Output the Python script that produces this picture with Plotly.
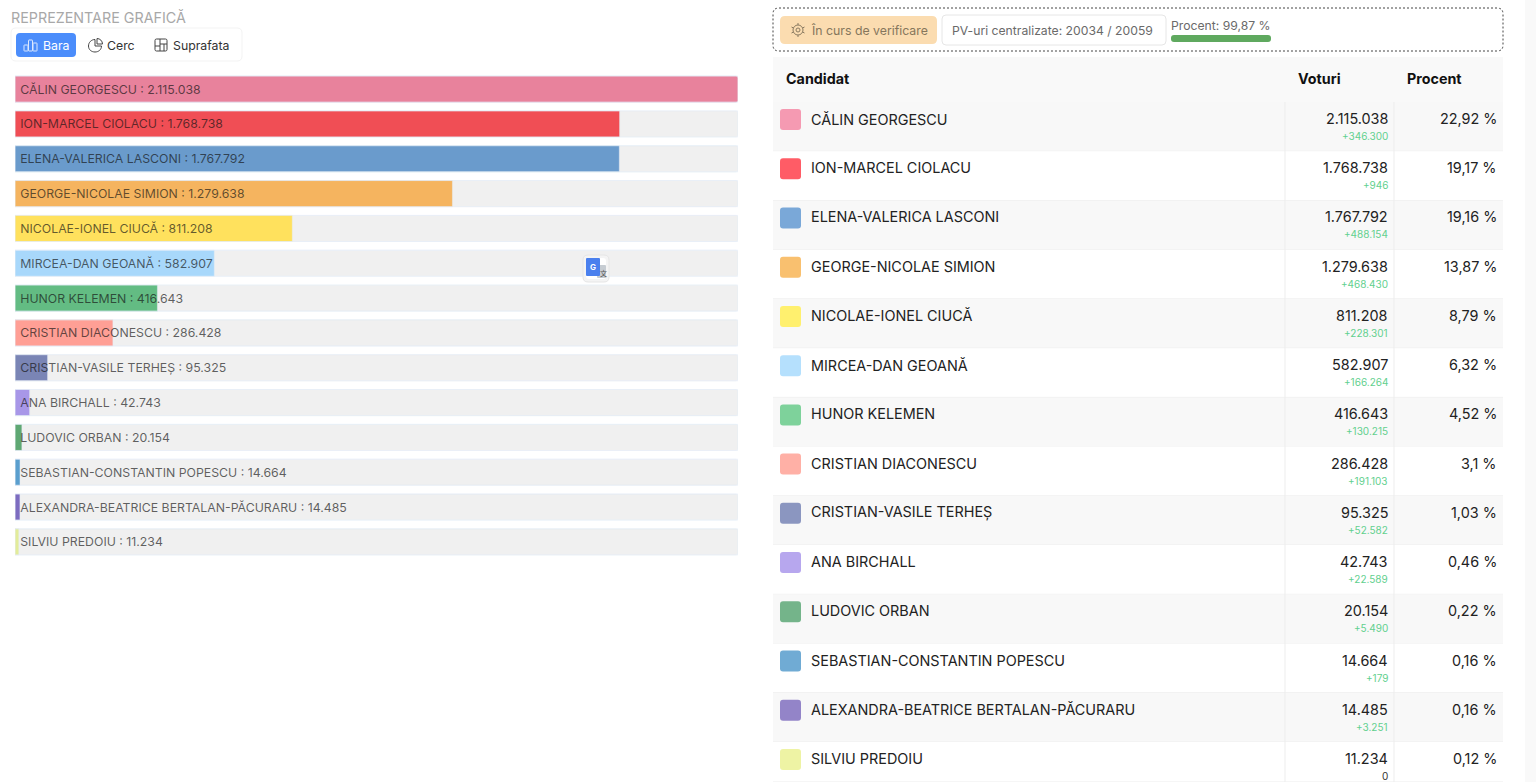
import plotly.graph_objects as go

candidates = ["CĂLIN GEORGESCU", "ION-MARCEL CIOLACU", "ELENA-VALERICA LASCONI", "GEORGE-NICOLAE SIMION",
              "NICOLAE-IONEL CIUCĂ", "MIRCEA-DAN GEOANĂ", "HUNOR KELEMEN", "CRISTIAN DIACONESCU",
              "CRISTIAN-VASILE TERHEȘ", "ANA BIRCHALL", "LUDOVIC ORBAN", "SEBASTIAN-CONSTANTIN POPESCU",
              "ALEXANDRA-BEATRICE BERTALAN-PĂCURARU", "SILVIU PREDOIU"]
votes = [2115038, 1768738, 1767792, 1279638, 811208, 582907, 416643, 286428, 95325, 42743, 20154, 14664, 14485, 11234]
deltas = [346300, 946, 488154, 468430, 228301, 166264, 130215, 191103, 52582, 22589, 5490, 179, 3251, 0]
percents = ["22,92 %", "19,17 %", "19,16 %", "13,87 %", "8,79 %", "6,32 %", "4,52 %", "3,1 %", "1,03 %",
            "0,46 %", "0,22 %", "0,16 %", "0,16 %", "0,12 %"]
bar_colors = ["#e8829c", "#f04e55", "#6a9bcc", "#f5b45f", "#ffe15d", "#a8d8fb", "#63bc83", "#ff9f95",
              "#7a85b5", "#a897e8", "#5fa873", "#5b9fce", "#7d6cc0", "#e3ec9a"]
swatch_colors = ["#f59ab2", "#ff5c66", "#7aa8d8", "#f9c06f", "#fff06e", "#b5e0fd", "#7ed29b", "#ffb0a6",
                 "#8b96c0", "#b7a7ee", "#74b48a", "#70abd4", "#9384c8", "#eef3a4"]

FONT = "Inter"
W, H = 1536, 782


def fmt(n):
    return f"{n:,}".replace(",", ".")


def rrect(x0, y0, x1, y1, r):
    return (f"M{x0+r},{y0} L{x1-r},{y0} Q{x1},{y0} {x1},{y0+r} L{x1},{y1-r} Q{x1},{y1} {x1-r},{y1} "
            f"L{x0+r},{y1} Q{x0},{y1} {x0},{y1-r} L{x0},{y0+r} Q{x0},{y0} {x0+r},{y0} Z")


shapes = []
notes = []


def box(x0, y0, x1, y1, fill="rgba(0,0,0,0)", line=None, r=0, dash="solid", width=1):
    shapes.append(dict(type="path", path=rrect(x0, y0, x1, y1, r), xref="x2", yref="y2", fillcolor=fill,
                       line=dict(color=line or "rgba(0,0,0,0)", width=width if line else 0, dash=dash)))


def stroke(path, color, width=1):
    shapes.append(dict(type="path", path=path, xref="x2", yref="y2", line=dict(color=color, width=width)))


def label(x, y, text, size=14, color="#222", anchor="left", bold=False, family=FONT):
    # annotations sit about 1px inside their anchor
    nudge = {"left": -1, "right": 1}.get(anchor, 0)
    notes.append(dict(x=x + nudge, y=y, xref="x2", yref="y2", text=f"<b>{text}</b>" if bold else text,
                      showarrow=False, xanchor=anchor, yanchor="middle", align=anchor, borderpad=0,
                      font=dict(family=family, size=size, color=color)))


# left header and the buttons
label(11, 17, "REPREZENTARE GRAFICĂ", 14.3, "#a8a8a8")
box(11, 28, 242, 61, "#ffffff", "#f3f3f3", 5)
box(16, 33, 76, 57, "#4b8dfb", None, 4)
label(43, 45, "Bara", 12.3, "#ffffff")
label(107, 45, "Cerc", 12.3, "#333333")
label(173, 45, "Suprafata", 12.3, "#333333")
for x0, y0, x1 in [(24, 45, 28), (28.5, 40, 32.5), (33, 43, 37)]:
    box(x0, y0, x1, 51, "rgba(0,0,0,0)", "#dce8ff", 0.5, width=1)
stroke("M95,39.5 C91.4,39.5 88.5,42.4 88.5,46 C88.5,49.6 91.4,52 95,52 C98.6,52 101.5,49.6 101.5,46 L95,46 Z",
       "#444444")
stroke("M97,38.5 C100,38.5 102.5,41 102.5,44 L97,44 Z", "#444444")
box(155, 39, 167, 51, "rgba(0,0,0,0)", "#444444", 1.5)
stroke("M160,39 L160,51 M155,46 L160,46 M160,44 L167,44 M164,44 L164,51", "#444444")

# floating translate widget
box(583, 255, 609, 282, "#f4f4f4", "#e6e6e6", 5)
box(586, 258, 606, 279, "#ffffff", None, 3)
box(597, 265, 606, 278, "#c6ccd2", None, 1)
box(586, 258, 600, 276, "#4a80ee", None, 1)
label(593, 267, "G", 8, "#ffffff", "center", True)
label(603, 273, "文", 7, "#555555", "center", family="Noto Sans CJK SC")

# status bar
box(773, 8, 1503, 51, "rgba(0,0,0,0)", "#444444", 6, "2px,2px")
box(780, 16, 937, 44, "#fbdcb0", None, 5)
shapes.append(dict(type="circle", x0=793, y0=25, x1=803, y1=35, xref="x2", yref="y2",
                   line=dict(color="#8a7a60", width=1)))
shapes.append(dict(type="circle", x0=796, y0=28, x1=800, y1=32, xref="x2", yref="y2",
                   line=dict(color="#8a7a60", width=1)))
stroke("M798,23 L798,25 M798,35 L798,37 M791.5,27 L793.5,28 M802.5,32 L804.5,33 M791.5,33 L793.5,32 M802.5,28 L804.5,27",
       "#8a7a60")
label(811, 30, "În curs de verificare", 12.3, "#85765c")
box(942, 15, 1166, 45, "#ffffff", "#e6e6e6", 4)
label(952, 30, "PV-uri centralizate: 20034 / 20059", 12.2, "#6a6a6a")
label(1171, 25, "Procent: 99,87 %", 12.2, "#6a6a6a")
box(1171, 35, 1271, 42, "#5fa95f", None, 3)

# table
ROW0, ROW_H = 102.0, 49.23
box(1525, 0, 1536, 782, "#f9f9f9")
box(773, 57, 1503, 102, "#f9f9f9")
label(786, 78.5, "Candidat", 14.3, "#111111", bold=True)
label(1298, 78.5, "Voturi", 14.3, "#111111", bold=True)
label(1407, 78.5, "Procent", 14.3, "#111111", bold=True)
for i, name in enumerate(candidates):
    top = ROW0 + i * ROW_H
    bottom = min(top + ROW_H, H)
    box(773, top, 1503, bottom, "#f8f8f8" if i % 2 == 0 else "#ffffff")
    stroke(f"M773,{bottom} L1503,{bottom}", "#ededed")
    box(780, top + 7, 801, top + 28, swatch_colors[i], None, 3)
    label(811, top + 16.5, name, 14.4, "#222222")
    label(1388, top + 16.5, fmt(votes[i]), 14.4, "#222222", "right")
    label(1388, top + 34, f"+{fmt(deltas[i])}" if deltas[i] else "0", 10,
          "#62d08e" if deltas[i] else "#333333", "right")
    label(1497, top + 16.5, percents[i], 14.4, "#222222", "right")
stroke("M1285,102 L1285,782 M1394,102 L1394,782", "#ededed")

top_votes = [max(votes)] * len(votes)
# leading thin space moves the text to where the reference starts it
bar_labels = [f"\u2009{n} : {fmt(v)}" for n, v in zip(candidates, votes)]

fig = go.Figure()
fig.add_trace(go.Bar(y=candidates, x=top_votes, orientation="h", marker=dict(color="#f0f0f0", cornerradius=2),
                     hoverinfo="skip", xaxis="x", yaxis="y"))
fig.add_trace(go.Bar(y=candidates, x=votes, orientation="h", marker=dict(color=bar_colors, cornerradius=2),
                     xaxis="x", yaxis="y"))
fig.add_trace(go.Bar(y=candidates, x=top_votes, orientation="h", marker=dict(color="rgba(0,0,0,0)"),
                     text=bar_labels, textposition="inside", insidetextanchor="start", textangle=0,
                     insidetextfont=dict(family=FONT, size=12.3, color="rgba(20,20,20,0.68)"),
                     hoverinfo="skip", xaxis="x", yaxis="y"))
# empty trace so the pixel axes for the table exist
fig.add_trace(go.Scatter(x=[], y=[], xaxis="x2", yaxis="y2", hoverinfo="skip"))

fig.update_layout(
    width=W, height=H, margin=dict(l=0, r=0, t=0, b=0), barmode="overlay", bargap=0.25, showlegend=False,
    paper_bgcolor="#ffffff", plot_bgcolor="rgba(0,0,0,0)", font=dict(family=FONT),
    xaxis=dict(domain=[15 / W, 738 / W], range=[0, max(votes)], visible=False, fixedrange=True),
    yaxis=dict(domain=[1 - 559.3 / H, 1 - 71.7 / H], type="category", autorange="reversed", visible=False,
               fixedrange=True),
    xaxis2=dict(domain=[0, 1], range=[0, W], visible=False, fixedrange=True, anchor="y2"),
    yaxis2=dict(domain=[0, 1], range=[H, 0], visible=False, fixedrange=True, anchor="x2"),
    shapes=shapes, annotations=notes,
)

fig.write_html("out.html", config=dict(displayModeBar=False),
               post_script="document.body.style.margin='0';document.body.style.overflow='hidden';")
